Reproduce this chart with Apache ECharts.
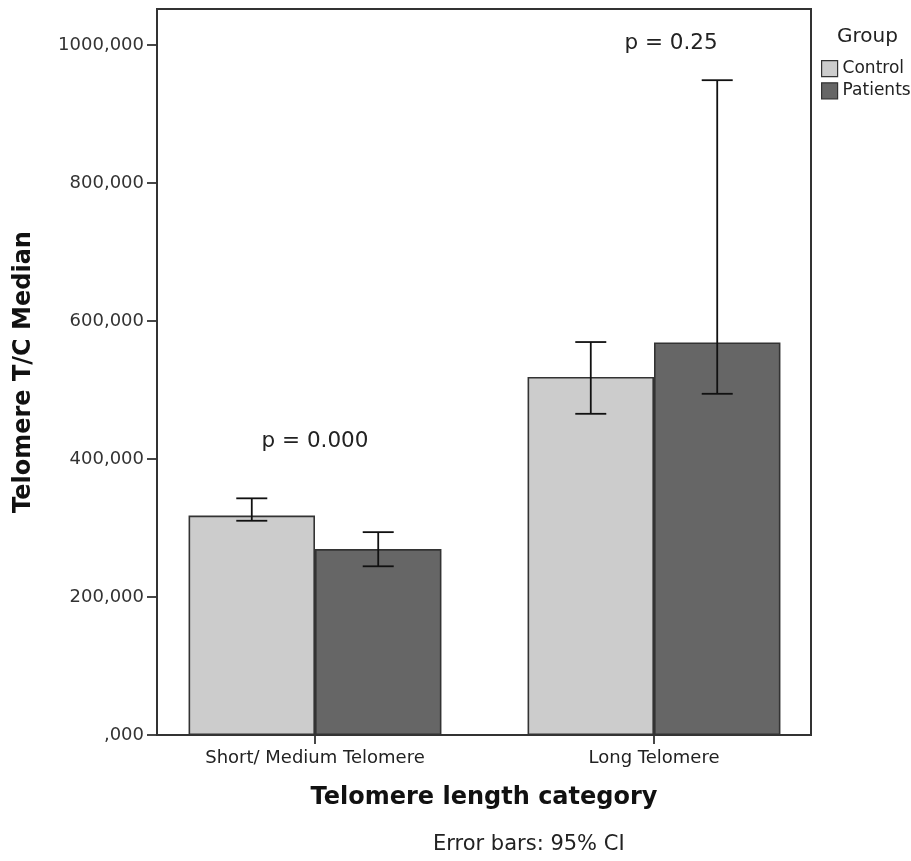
<!DOCTYPE html>
<html>
<head>
<meta charset="utf-8">
<script src="https://cdn.jsdelivr.net/npm/echarts@6/dist/echarts.min.js"></script>
<style>
html,body{margin:0;padding:0;background:#fff;}
#chart{width:911px;height:861px;}
</style>
</head>
<body>
<div id="chart"></div>
<script>
const categories = ['Short/ Medium Telomere', 'Long Telomere'];
const groups = ['Control', 'Patients'];
const controlMedian = [318000, 519000];
const patientsMedian = [269500, 569000];
const controlCILow = [310500, 465500];
const controlCIHigh = [343000, 569500];
const patientsCILow = [244500, 494500];
const patientsCIHigh = [294000, 949000];
const yTickValues = [0, 200000, 400000, 600000, 800000, 1000000];
const yTickLabels = [',000', '200,000', '400,000', '600,000', '800,000', '1000,000'];
const pLabels = ['p = 0.000', 'p = 0.25'];
const pLabelValues = [425000, 1003000];

const FONT = '"DejaVu Sans", "Noto Sans", sans-serif';
const gapFrac = 0.254;
const pLabelDx = [0, 17];

function errorBarRender(sign) {
  return function (params, api) {
    const ci = api.value(0);
    const hi = api.coord([ci, api.value(2)]);
    const lo = api.coord([ci, api.value(1)]);
    const band = api.size([1, 0])[0];
    const barW = band * (1 - gapFrac) / 2;
    const x = hi[0] + sign * barW / 2;
    const cap = 15.5;
    const st = { stroke: '#111', lineWidth: 1.8 };
    return {
      type: 'group',
      children: [
        { type: 'line', shape: { x1: x, y1: hi[1], x2: x, y2: lo[1] }, style: st },
        { type: 'line', shape: { x1: x - cap, y1: hi[1], x2: x + cap, y2: hi[1] }, style: st },
        { type: 'line', shape: { x1: x - cap, y1: lo[1], x2: x + cap, y2: lo[1] }, style: st }
      ]
    };
  };
}

const chart = echarts.init(document.getElementById('chart'), null, { renderer: 'canvas' });
chart.setOption({
  backgroundColor: '#ffffff',
  animation: false,
  textStyle: { fontFamily: FONT },
  title: [{
    text: 'Group', left: 832, top: 22,
    textStyle: { fontFamily: FONT, fontSize: 20, fontWeight: 'normal', color: '#222' }
  }],
  legend: {
    orient: 'vertical', left: 816, top: 55,
    itemWidth: 16, itemHeight: 16, itemGap: 5,
    icon: 'rect',
    data: groups,
    itemStyle: { borderColor: '#333', borderWidth: 1.2 },
    textStyle: { fontFamily: FONT, fontSize: 17, color: '#222', padding: [0, 0, 0, 0] }
  },
  grid: [
    { left: 145.5, right: 87.5, top: 45, bottom: 126, containLabel: false },
    { left: 157, right: 100, top: 9, bottom: 126, show: true, borderColor: '#333', borderWidth: 2, backgroundColor: 'transparent' }
  ],
  xAxis: [
    {
      type: 'category', gridIndex: 0, data: categories,
      axisLine: { show: false },
      axisTick: { show: true, alignWithLabel: true, length: 9, lineStyle: { color: '#333', width: 1.8 } },
      axisLabel: { fontFamily: FONT, fontSize: 18, color: '#222', margin: 14 }
    },
    {
      type: 'category', gridIndex: 1, data: categories,
      axisLine: { show: false }, axisTick: { show: false }, axisLabel: { show: false },
      name: 'Telomere length category', nameLocation: 'middle', nameGap: 51,
      nameTextStyle: { fontFamily: FONT, fontSize: 24, fontWeight: 'bold', color: '#111' }
    }
  ],
  yAxis: [
    {
      type: 'value', gridIndex: 0, min: 0, max: 1000000, interval: 200000,
      offset: -11.5,
      axisLine: { show: false },
      splitLine: { show: false },
      axisTick: { show: true, length: 10, lineStyle: { color: '#333', width: 1.8 } },
      axisLabel: {
        fontFamily: FONT, fontSize: 18, color: '#333', margin: 13,
        formatter: function (v) { const i = yTickValues.indexOf(v); return i >= 0 ? yTickLabels[i] : ''; }
      }
    },
    {
      type: 'value', gridIndex: 1, min: 0, max: 1,
      axisLine: { show: false }, axisTick: { show: false }, axisLabel: { show: false }, splitLine: { show: false },
      name: 'Telomere T/C Median', nameLocation: 'middle', nameGap: 121,
      nameTextStyle: { fontFamily: FONT, fontSize: 24, fontWeight: 'bold', color: '#111' }
    }
  ],
  series: [
    {
      name: 'Control', type: 'bar', xAxisIndex: 0, yAxisIndex: 0,
      data: controlMedian, barGap: '0%', barCategoryGap: (gapFrac * 100) + '%',
      itemStyle: { color: '#cccccc', borderColor: '#333', borderWidth: 1.6 }, z: 3
    },
    {
      name: 'Patients', type: 'bar', xAxisIndex: 0, yAxisIndex: 0,
      data: patientsMedian, barGap: '0%', barCategoryGap: (gapFrac * 100) + '%',
      itemStyle: { color: '#666666', borderColor: '#333', borderWidth: 1.6 }, z: 3
    },
    {
      name: 'Control CI', type: 'custom', xAxisIndex: 0, yAxisIndex: 0, z: 5,
      renderItem: errorBarRender(-1),
      data: categories.map((c, i) => [i, controlCILow[i], controlCIHigh[i]])
    },
    {
      name: 'Patients CI', type: 'custom', xAxisIndex: 0, yAxisIndex: 0, z: 5,
      renderItem: errorBarRender(1),
      data: categories.map((c, i) => [i, patientsCILow[i], patientsCIHigh[i]])
    },
    {
      name: 'p values', type: 'custom', xAxisIndex: 0, yAxisIndex: 0, z: 6, clip: false,
      renderItem: function (params, api) {
        const p = api.coord([api.value(0), api.value(1)]);
        return {
          type: 'text',
          style: {
            x: p[0] + pLabelDx[params.dataIndex], y: p[1],
            text: pLabels[params.dataIndex],
            align: 'center', verticalAlign: 'middle',
            font: '21.5px ' + FONT, fill: '#222'
          }
        };
      },
      data: categories.map((c, i) => [i, pLabelValues[i]])
    }
  ],
  graphic: [{
    type: 'text', left: 433, top: 834,
    style: { text: 'Error bars: 95% CI', font: '21px ' + FONT, fill: '#222' }
  }]
});
</script>
</body>
</html>
